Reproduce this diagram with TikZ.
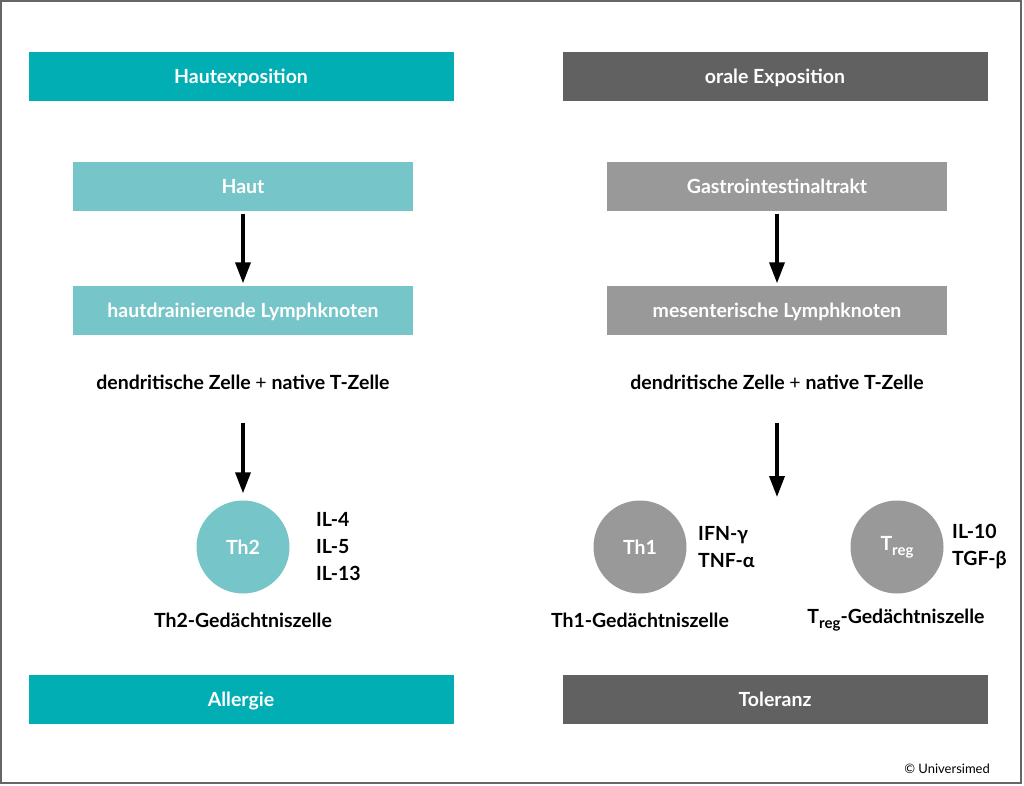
\documentclass[tikz,border=0pt]{standalone}
\usepackage{fontspec}
\setmainfont{Lato}
\usetikzlibrary{arrows.meta}
\definecolor{hautdark}{HTML}{00AEB3}
\definecolor{hautlight}{HTML}{76C5C8}
\definecolor{oraldark}{HTML}{616161}
\definecolor{orallight}{HTML}{999999}
\newcommand{\labelfont}{\bfseries\fontsize{19.5}{27}\selectfont}
\newcommand{\regsub}{\raisebox{-0.5ex}{\fontsize{15}{15}\selectfont reg}}
\begin{document}
\begin{tikzpicture}[x=1pt,y=-1pt,
  bar/.style={minimum width=425pt,minimum height=49pt,inner sep=0pt,text height=16pt,text depth=1pt,text=white,font=\labelfont},
  site/.style={minimum width=340pt,minimum height=49pt,inner sep=0pt,text height=16pt,text depth=1pt,text=white,font=\labelfont},
  cell/.style={circle,minimum size=93pt,inner sep=0pt,text=white,font=\labelfont},
  txt/.style={inner sep=2pt,font=\labelfont},
  cyto/.style={anchor=west,align=left,inner sep=0pt,font=\labelfont},
  arr/.style={-{Triangle[length=21pt,width=15pt]},line width=3.5pt}]
\useasboundingbox (0,0) rectangle (1024,785);
\draw[line width=1.5pt,color=black!60] (1,1) rectangle (1021,783);

% Haut
\node[bar,fill=hautdark] (hautexp) at (241,76) {Hautexposition};
\node[site,fill=hautlight] (haut) at (243,186) {Haut};
\node[site,fill=hautlight] (hln) at (243,310) {hautdrainierende Lymphknoten};
\node[txt] (dzl) at (243,382) {dendritische Zelle {\mdseries +} native T-Zelle};
\node[cell,fill=hautlight] (th2) at (243,547) {Th2};
\node[cyto] (cyt2) at (316,547) {IL-4\\IL-5\\IL-13};
\node[txt] (mem2) at (243,620) {Th2-Gedächtniszelle};
\node[bar,fill=hautdark] (allergie) at (241,699) {Allergie};
\draw[arr,shorten <=3pt,shorten >=2pt] (haut) -- (hln);
\draw[arr,shorten <=31pt,shorten >=7pt] (dzl) -- (th2);

% oral
\node[bar,fill=oraldark] (oralexp) at (775,76) {orale Exposition};
\node[site,fill=orallight] (gi) at (777,186) {Gastrointestinaltrakt};
\node[site,fill=orallight] (mln) at (777,310) {mesenterische Lymphknoten};
\node[txt] (dzr) at (777,382) {dendritische Zelle {\mdseries +} native T-Zelle};
\coordinate (split) at (777,497);
\node[cell,fill=orallight] (th1) at (640,547) {Th1};
\node[cyto] (cyt1) at (698,547) {IFN-γ\\TNF-α};
\node[txt] (mem1) at (640,620) {Th1-Gedächtniszelle};
\node[cell,fill=orallight] (treg) at (897,547) {T\regsub};
\node[cyto] (cytreg) at (952,547) {IL-10\\TGF-β};
\node[txt] (memreg) at (896,620) {T\regsub-Gedächtniszelle};
\node[bar,fill=oraldark] (toleranz) at (775,699) {Toleranz};
\draw[arr,shorten <=3pt,shorten >=2pt] (gi) -- (mln);
\draw[arr,shorten <=31pt] (dzr) -- (split);

\node[anchor=east,inner sep=0pt,font=\fontsize{13}{15}\selectfont] (copy) at (990,769) {© Universimed};
\end{tikzpicture}
\end{document}
